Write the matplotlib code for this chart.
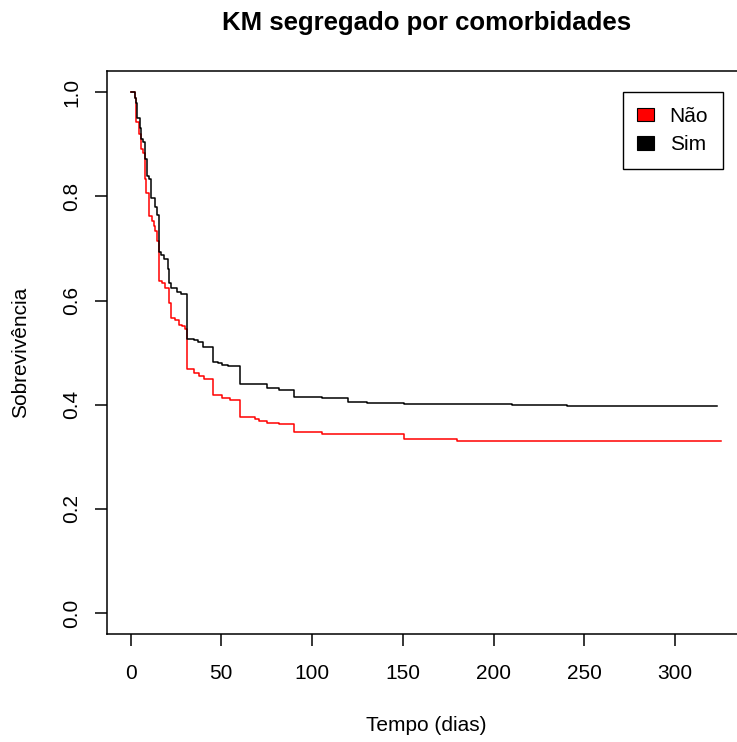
import matplotlib

matplotlib.use("Agg")
import matplotlib.pyplot as plt
from matplotlib.patches import Patch

# Kaplan-Meier step estimates, one pair of arrays per group
t_nao = [0, 2.2, 3.1, 4.6, 5.9, 6.8, 7.7, 8.6, 10.4, 11.9, 12.8, 13.7, 14.7,
         15.9, 17.4, 19.2, 21.1, 22.0, 22.3, 24.7, 26.5, 28.4, 30.2, 31.1,
         34.8, 37.5, 40.3, 45.2, 50.4, 54.9, 60.4, 68.7, 70.5, 75.1, 81.9,
         90.3, 105.3, 150.5, 180.0, 325.6]
s_nao = [1.0, 0.988, 0.942, 0.919, 0.890, 0.883, 0.833, 0.806, 0.762, 0.753,
         0.743, 0.733, 0.715, 0.637, 0.633, 0.624, 0.596, 0.576, 0.567, 0.563,
         0.554, 0.551, 0.546, 0.469, 0.460, 0.456, 0.450, 0.418, 0.413, 0.410,
         0.376, 0.372, 0.369, 0.365, 0.363, 0.347, 0.344, 0.335, 0.331, 0.331]

t_sim = [0, 2.2, 3.1, 3.7, 5.0, 5.9, 7.0, 8.1, 8.8, 10.4, 11.0, 13.4, 14.7,
         15.9, 16.9, 18.3, 20.8, 21.4, 22.3, 25.6, 27.5, 31.1, 34.8, 37.0,
         39.9, 45.2, 48.0, 50.4, 53.5, 60.4, 75.1, 81.9, 90.3, 105.3, 120.0,
         130.0, 150.5, 210.0, 240.5, 323.0]
s_sim = [1.0, 0.988, 0.979, 0.951, 0.932, 0.910, 0.904, 0.871, 0.839, 0.833,
         0.797, 0.780, 0.764, 0.693, 0.687, 0.680, 0.660, 0.634, 0.624, 0.617,
         0.613, 0.527, 0.524, 0.521, 0.510, 0.483, 0.480, 0.477, 0.475, 0.440,
         0.433, 0.429, 0.415, 0.412, 0.406, 0.404, 0.402, 0.3995, 0.397, 0.397]

groups = ["Não", "Sim"]
group_colors = ["#FF0000", "#000000"]

x_ticks = [0, 50, 100, 150, 200, 250, 300]
y_ticks = [0.0, 0.2, 0.4, 0.6, 0.8, 1.0]

plt.rcParams["font.family"] = ["Liberation Sans", "DejaVu Sans"]

W, H = 737, 742
fig = plt.figure(figsize=(W / 100, H / 100), dpi=100)

# Plot region in pixels (right edge runs past the figure)
left, right, top, bottom = 107, 744, 71.3, 634
ax = fig.add_axes([left / W, 1 - bottom / H, (right - left) / W, (bottom - top) / H])

ax.step(t_nao, s_nao, where="post", color=group_colors[0], linewidth=1.1)
ax.step(t_sim, s_sim, where="post", color=group_colors[1], linewidth=1.1)

ax.set_xlim(-13, 338)
ax.set_ylim(-0.04, 1.04)

ax.set_xticks(x_ticks)
ax.set_xticklabels([str(v) for v in x_ticks])
ax.set_yticks(y_ticks)
ax.set_yticklabels([f"{v:.1f}" for v in y_ticks], rotation=90, va="center")

for spine in ax.spines.values():
    spine.set_linewidth(1.1)
ax.tick_params(axis="both", length=8.8, width=1.1, labelsize=15, color="black")
ax.tick_params(axis="x", pad=13)
ax.tick_params(axis="y", pad=10)

# Legend with filled squares
handles = [Patch(facecolor=c, edgecolor="black", linewidth=0.8) for c in group_colors]
leg = ax.legend(
    handles, groups,
    loc="upper right",
    bbox_to_anchor=((722.7 - left) / (right - left), (bottom - 92.3) / (bottom - top)),
    borderaxespad=0,
    fontsize=15,
    handlelength=0.8,
    handleheight=0.6,
    handletextpad=0.75,
    labelspacing=0.45,
    borderpad=0.7,
    fancybox=False,
    edgecolor="black",
    framealpha=1.0,
)
leg.get_frame().set_linewidth(1.0)

fig.text(427 / W, 1 - 30 / H, "KM segregado por comorbidades",
         ha="center", va="baseline", fontsize=18.5, fontweight="bold")
fig.text(426 / W, 1 - 731 / H, "Tempo (dias)", ha="center", va="baseline", fontsize=15)
fig.text(21 / W, 1 - 352 / H, "Sobrevivência", ha="center", va="center",
         rotation=90, fontsize=15)

fig.savefig("out.png", dpi=100)
